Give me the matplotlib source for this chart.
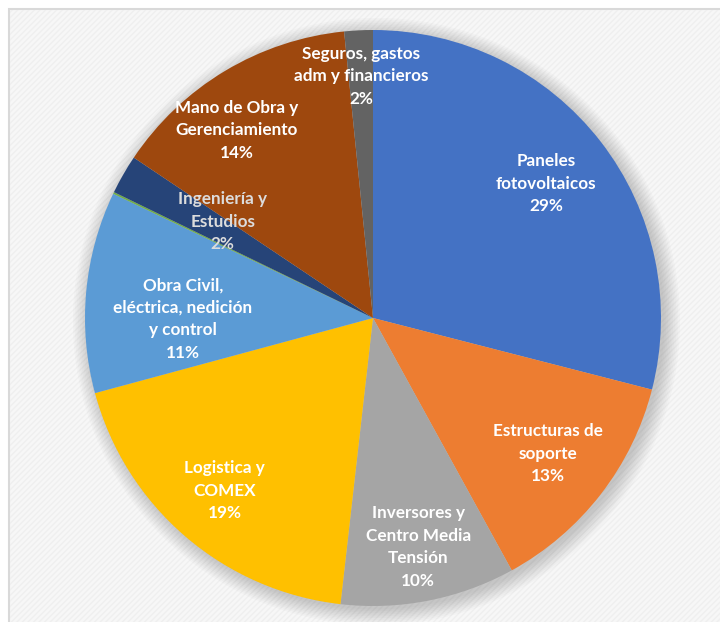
import numpy as np
import matplotlib.pyplot as plt
from matplotlib.patches import Rectangle, Circle

# cost breakdown, clockwise from 12 o'clock
categories = ['Paneles\nfotovoltaicos', 'Estructuras de\nsoporte',
              'Inversores y\nCentro Media\nTensión', 'Logistica y\nCOMEX',
              'Obra Civil,\neléctrica, nedición\ny control', '',
              'Ingeniería y\nEstudios', 'Mano de Obra y\nGerenciamiento',
              'Seguros, gastos\nadm y financieros']
values = [29.0, 13.0, 9.8, 19.0, 11.3, 0.1, 2.2, 14.0, 1.6]
colors = ['#4472C4', '#ED7D31', '#A5A5A5', '#FFC000', '#5B9BD5',
          '#70AD47', '#264478', '#9E480E', '#636363']

# label placement: radius fraction and angular nudge (deg) from slice middle
label_r = [0.76, 0.77, 0.81, 0.79, 0.66, 0.0, 0.62, 0.805, 0.84]
label_nudge = [0, 0, 0, 0, 5.5, 0, -2.8, 5.0, 0]

W, H = 720, 622
fig = plt.figure(figsize=(W / 100, H / 100), dpi=100, facecolor='white')

# chart area frame
bg = fig.add_axes([0, 0, 1, 1])
bg.set_xlim(0, W)
bg.set_ylim(H, 0)
bg.axis('off')
bg.add_patch(Rectangle((9, 9), W + 20, H + 20, facecolor='#f7f7f7',
                       edgecolor='#d9d9d9', linewidth=1.5))
bg.add_patch(Rectangle((10, 10), W + 20, H + 20, facecolor='none',
                       edgecolor='#efefef', hatch='//////', linewidth=0))

cx, cy, R = 373, 318, 288
ax = fig.add_axes([(cx - R) / W, (H - cy - R) / H, 2 * R / W, 2 * R / H])

# soft drop shadow behind the pie
for k in range(10):
    ax.add_patch(Circle((0.012, -0.012), 1.0 + k * 0.006, facecolor='#000000',
                        alpha=0.018, linewidth=0, zorder=0, clip_on=False))

wedges, _ = ax.pie(values, colors=colors, startangle=90, counterclock=False,
                   radius=1.0, wedgeprops=dict(linewidth=0))
for w in wedges:
    w.set_zorder(2)

ax.set_xlim(-1, 1)
ax.set_ylim(-1, 1)
ax.set_aspect('auto')
ax.axis('off')

for w, name, v, r, dn in zip(wedges, categories, values, label_r, label_nudge):
    if not name:
        continue
    ang = np.deg2rad((w.theta1 + w.theta2) / 2 + dn)
    tc = '#dcdcdc' if name.startswith('Ingenier') else 'white'
    ax.text(r * np.cos(ang), r * np.sin(ang), f'{name}\n{v:.0f}%',
            ha='center', va='center', color=tc, fontsize=12.3,
            fontweight='bold', family=['Lato', 'DejaVu Sans'],
            linespacing=1.5, zorder=5)

plt.savefig('out.png', dpi=100, facecolor='white')
